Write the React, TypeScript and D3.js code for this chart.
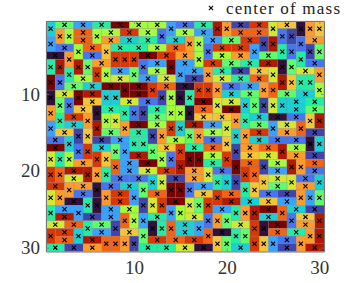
import React, { useRef, useEffect } from "react";
import * as d3 from "d3";

// one string per grid row: each letter is a two-cell region that starts in this row,
// placed in the next free cell. UPPER = lies across two columns, lower = spans two rows.
// the letter itself is the colour level, a (lowest) to o (highest)
const regionRows = [
  "eGDFOHHdCFnkBMiJakj",
  "khLhHMHcHDLLcb",
  "dLKEFEkhDGMbncK",
  "ChLjFFHLcMMdfcbg",
  "AkCmmmOMKhHKGf",
  "fnngKcDoDMGFNagC",
  "fmhDgHdDkFBJiIk",
  "ocHIDIBIFLnjff",
  "GEOoOmLAmmkCDklh",
  "aIoNeeObhafEGGE",
  "gcJICOiIegbieEF",
  "kJaFfcbFhhaLOEG",
  "fMkhiGJJkfEACjn",
  "dEnkOHmeNDiGdIl",
  "JbjGFbkgkHekMKB",
  "CeBDffHCjECCae",
  "OcmEgdgJmFLbKLnH",
  "ifhmjNhcooHmJIKB",
  "KlDOnFoLbHnkL",
  "mlNnkfDIMKiCmlDC",
  "ICCeiBKfebjIiCe",
  "MkKaCEgoocDfjGK",
  "ikCkMdLJmLCBkdg",
  "AfaMbimOigmNEJD",
  "fDdDHdhDfknOlEB",
  "NBDlhdFIckgEcJn",
  "ILfGbaflEdImaOK",
  "mMeDJgElAfgLFkn",
  "LNllkbMLMjgmjdCk",
  "FBKFFIAEBN",
];

const levels = "abcdefghijklmno";
const turboColors = [
  "#30123b", "#4145ab", "#4675ed", "#39a2fc", "#1bcfd4",
  "#24eca6", "#61fc6c", "#a4fc3c", "#d1e834", "#f3c63a",
  "#fe9b2d", "#f36315", "#d93806", "#b11901", "#7a0403",
];

const gridSize = 30;
const xTicks = [10, 20, 30];
const yTicks = [10, 20, 30];
const legendLabel = "center of mass";

// walk the rows and put each region in the first free cell
const buildRegions = () => {
  const taken = d3.range(gridSize + 1).map(() => new Array(gridSize + 1).fill(false));
  const regions: { row: number; col: number; across: boolean; level: number }[] = [];
  regionRows.forEach((str, r) => {
    let c = 0;
    for (const ch of str) {
      while (taken[r][c]) c++;
      const across = ch === ch.toUpperCase();
      taken[r][c] = true;
      if (across) taken[r][c + 1] = true;
      else taken[r + 1][c] = true;
      regions.push({ row: r + 1, col: c + 1, across, level: levels.indexOf(ch.toLowerCase()) });
    }
  });
  return regions;
};

const App = () => {
  const ref = useRef(null);

  useEffect(() => {
    const svg = d3.select(ref.current);
    svg.selectAll("*").remove();

    const x = d3.scaleLinear().domain([0.5, gridSize + 0.5]).range([46, 324]);
    const y = d3.scaleLinear().domain([0.5, gridSize + 0.5]).range([21, 251.5]);
    const color = d3.scaleOrdinal(d3.range(levels.length), turboColors);
    const regions = buildRegions();

    svg.append("g")
      .selectAll("rect")
      .data(regions)
      .join("rect")
      .attr("x", d => x(d.col - 0.5))
      .attr("y", d => y(d.row - 0.5))
      .attr("width", d => x(d.col + (d.across ? 1.5 : 0.5)) - x(d.col - 0.5))
      .attr("height", d => y(d.row + (d.across ? 0.5 : 1.5)) - y(d.row - 0.5))
      .attr("fill", d => color(d.level))
      .attr("stroke", "#6b6b6b")
      .attr("stroke-opacity", 0.4)
      .attr("stroke-width", 0.5);

    // center of mass of each region
    const cross = d3.symbol().type(d3.symbolX).size(13);
    svg.append("g")
      .selectAll("path")
      .data(regions)
      .join("path")
      .attr("d", cross)
      .attr("transform", d =>
        `translate(${x(d.col + (d.across ? 0.5 : 0))},${y(d.row + (d.across ? 0 : 0.5))})`)
      .attr("fill", "none")
      .attr("stroke", "#000")
      .attr("stroke-width", 1.1);

    const styleAxis = (g) => {
      g.selectAll("path").attr("stroke", "#777").attr("stroke-width", 1);
      g.selectAll("line").attr("stroke", "#777").attr("stroke-width", 0.7);
      g.selectAll("text")
        .attr("font-family", "'Liberation Serif', serif")
        .attr("font-size", 19)
        .attr("fill", "#333");
    };

    svg.append("g")
      .attr("transform", `translate(0,${y.range()[1]})`)
      .call(d3.axisBottom(x).tickValues(xTicks).tickSizeOuter(0).tickSizeInner(-3).tickPadding(9).tickFormat(d3.format("d")))
      .call(styleAxis);
    svg.append("g")
      .attr("transform", `translate(${x.range()[0]},0)`)
      .call(d3.axisLeft(y).tickValues(yTicks).tickSizeOuter(0).tickSizeInner(-3).tickPadding(6).tickFormat(d3.format("d")))
      .call(styleAxis);
    svg.append("g")
      .attr("transform", `translate(0,${y.range()[0]})`)
      .call(d3.axisTop(x).tickValues(xTicks).tickSizeOuter(0).tickSizeInner(-3).tickFormat(() => ""))
      .call(styleAxis);
    svg.append("g")
      .attr("transform", `translate(${x.range()[1]},0)`)
      .call(d3.axisRight(y).tickValues(yTicks).tickSizeOuter(0).tickSizeInner(-3).tickFormat(() => ""))
      .call(styleAxis);

    // legend
    svg.append("path")
      .attr("d", cross)
      .attr("transform", "translate(211,8)")
      .attr("fill", "none")
      .attr("stroke", "#000")
      .attr("stroke-width", 1.1);
    svg.append("text")
      .attr("x", 226)
      .attr("y", 13.5)
      .attr("font-family", "'Liberation Serif', serif")
      .attr("font-size", 17)
      .attr("textLength", 114)
      .attr("fill", "#222")
      .text(legendLabel);
  }, []);

  return (
    <svg ref={ref} width={357} height={283} style={{ position: "absolute", left: 0, top: 0 }} />
  );
};

export default App;
